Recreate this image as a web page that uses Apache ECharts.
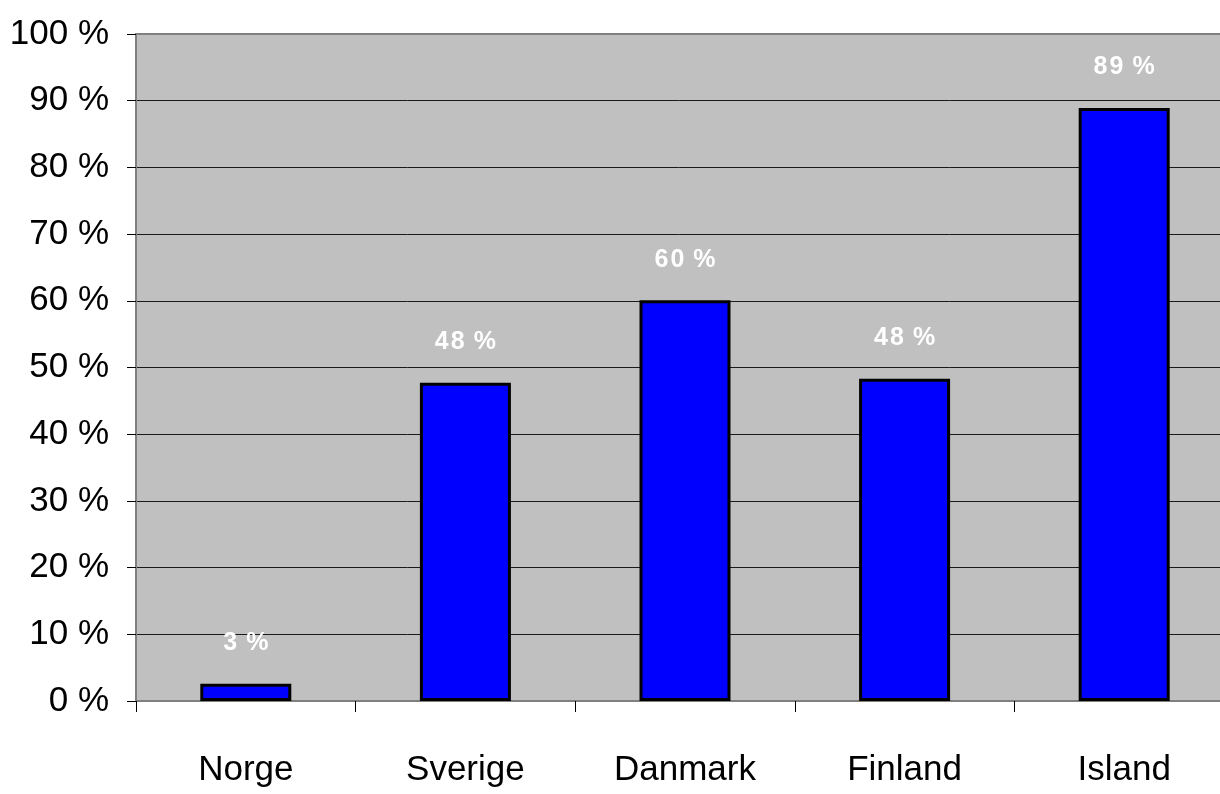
<!DOCTYPE html>
<html>
<head>
<meta charset="utf-8">
<script src="https://cdn.jsdelivr.net/npm/echarts@6/dist/echarts.min.js"></script>
<style>
html, body { margin: 0; padding: 0; background: #fff; }
#main { width: 1220px; height: 794px; }
</style>
</head>
<body>
<div id="main"></div>
<script>
// land og andel
var countries = ['Norge', 'Sverige', 'Danmark', 'Finland', 'Island'];
var shares = [2.6, 47.7, 60.1, 48.3, 88.9];
var yTicks = [0, 10, 20, 30, 40, 50, 60, 70, 80, 90, 100];

var font = '"Liberation Sans", Arial, sans-serif';

// 0 % og 100 % er rammen, resten svarte linjer
var splitColors = yTicks.map(function (t, i) {
	return (i == 0 || i == yTicks.length - 1) ? '#808080' : '#1a1a1a';
});

var myChart = echarts.init(document.getElementById('main'));
var option = {
	backgroundColor: '#ffffff',
	animation: false,
	grid: {
		left: 136,
		top: 34,
		bottom: 93,
		right: -14,
		outerBoundsMode: 'none',
		containLabel: false,
		show: true,
		backgroundColor: '#c0c0c0',
		borderColor: '#808080',
		borderWidth: 2
	},
	xAxis: {
		type: 'category',
		data: countries,
		axisLine: { show: true, lineStyle: { color: '#808080', width: 2 } },
		axisTick: { show: true, length: 11, lineStyle: { color: '#000', width: 1 } },
		axisLabel: {
			interval: 0,
			margin: 52,
			color: '#000',
			fontFamily: font,
			fontSize: 35
		}
	},
	yAxis: {
		type: 'value',
		min: 0,
		max: 100,
		interval: 10,
		axisLine: { show: true, lineStyle: { color: '#808080', width: 2 } },
		axisTick: { show: true, length: 9, lineStyle: { color: '#000', width: 1 } },
		splitLine: { show: true, lineStyle: { color: splitColors, width: 1 } },
		axisLabel: {
			formatter: '{value} %',
			margin: 27,
			color: '#000',
			fontFamily: font,
			fontSize: 35
		}
	},
	series: [{
		type: 'bar',
		data: shares,
		barWidth: 91,
		itemStyle: {
			color: '#0000ff',
			borderColor: '#000000',
			borderWidth: 3
		},
		label: {
			show: true,
			position: 'top',
			distance: 28,
			color: '#ffffff',
			fontFamily: font,
			fontWeight: 'bold',
			fontSize: 25,
			formatter: function (p) {
				// luft mellom tegnene som i originalen
				return (Math.round(p.value) + '').split('').join('\u200a') + ' \u200a%';
			}
		}
	}]
};
myChart.setOption(option);
</script>
</body>
</html>
